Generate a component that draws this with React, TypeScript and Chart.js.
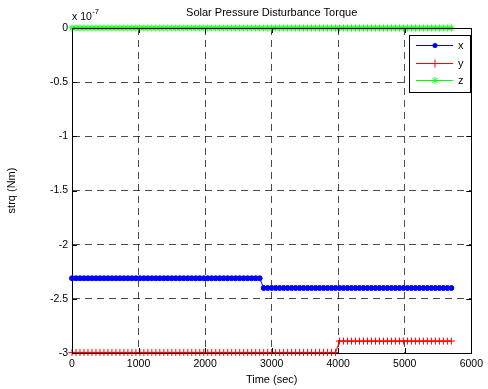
import React, { useEffect, useRef } from "react";
import { Chart, registerables } from "chart.js";

Chart.register(...registerables);

// Time samples (sec)
const TIME = [
  0, 60, 120, 180, 240, 300, 360, 420, 480, 540, 600, 660, 720, 780, 840, 900,
  960, 1020, 1080, 1140, 1200, 1260, 1320, 1380, 1440, 1500, 1560, 1620, 1680, 1740, 1800, 1860,
  1920, 1980, 2040, 2100, 2160, 2220, 2280, 2340, 2400, 2460, 2520, 2580, 2640, 2700, 2760, 2820,
  2880, 2940, 3000, 3060, 3120, 3180, 3240, 3300, 3360, 3420, 3480, 3540, 3600, 3660, 3720, 3780,
  3840, 3900, 3960, 4020, 4080, 4140, 4200, 4260, 4320, 4380, 4440, 4500, 4560, 4620, 4680, 4740,
  4800, 4860, 4920, 4980, 5040, 5100, 5160, 5220, 5280, 5340, 5400, 5460, 5520, 5580, 5640, 5700,
];

// Torque values in units of 1e-7 Nm
const X_TORQUE = [
  -2.31, -2.31, -2.31, -2.31, -2.31, -2.31, -2.31, -2.31, -2.31, -2.31, -2.31, -2.31, -2.31, -2.31, -2.31, -2.31,
  -2.31, -2.31, -2.31, -2.31, -2.31, -2.31, -2.31, -2.31, -2.31, -2.31, -2.31, -2.31, -2.31, -2.31, -2.31, -2.31,
  -2.31, -2.31, -2.31, -2.31, -2.31, -2.31, -2.31, -2.31, -2.31, -2.31, -2.31, -2.31, -2.31, -2.31, -2.31, -2.31,
  -2.40, -2.40, -2.40, -2.40, -2.40, -2.40, -2.40, -2.40, -2.40, -2.40, -2.40, -2.40, -2.40, -2.40, -2.40, -2.40,
  -2.40, -2.40, -2.40, -2.40, -2.40, -2.40, -2.40, -2.40, -2.40, -2.40, -2.40, -2.40, -2.40, -2.40, -2.40, -2.40,
  -2.40, -2.40, -2.40, -2.40, -2.40, -2.40, -2.40, -2.40, -2.40, -2.40, -2.40, -2.40, -2.40, -2.40, -2.40, -2.40,
];

const Y_TORQUE = [
  -2.995, -2.995, -2.995, -2.995, -2.995, -2.995, -2.995, -2.995, -2.995, -2.995, -2.995, -2.995, -2.995, -2.995, -2.995, -2.995,
  -2.995, -2.995, -2.995, -2.995, -2.995, -2.995, -2.995, -2.995, -2.995, -2.995, -2.995, -2.995, -2.995, -2.995, -2.995, -2.995,
  -2.995, -2.995, -2.995, -2.995, -2.995, -2.995, -2.995, -2.995, -2.995, -2.995, -2.995, -2.995, -2.995, -2.995, -2.995, -2.995,
  -2.995, -2.995, -2.995, -2.995, -2.995, -2.995, -2.995, -2.995, -2.995, -2.995, -2.995, -2.995, -2.995, -2.995, -2.995, -2.995,
  -2.995, -2.995, -2.995, -2.89, -2.89, -2.89, -2.89, -2.89, -2.89, -2.89, -2.89, -2.89, -2.89, -2.89, -2.89, -2.89,
  -2.89, -2.89, -2.89, -2.89, -2.89, -2.89, -2.89, -2.89, -2.89, -2.89, -2.89, -2.89, -2.89, -2.89, -2.89, -2.89,
];

const Z_TORQUE = [
  0, 0, 0, 0, 0, 0, 0, 0, 0, 0, 0, 0, 0, 0, 0, 0,
  0, 0, 0, 0, 0, 0, 0, 0, 0, 0, 0, 0, 0, 0, 0, 0,
  0, 0, 0, 0, 0, 0, 0, 0, 0, 0, 0, 0, 0, 0, 0, 0,
  0, 0, 0, 0, 0, 0, 0, 0, 0, 0, 0, 0, 0, 0, 0, 0,
  0, 0, 0, 0, 0, 0, 0, 0, 0, 0, 0, 0, 0, 0, 0, 0,
  0, 0, 0, 0, 0, 0, 0, 0, 0, 0, 0, 0, 0, 0, 0, 0,
];

const SERIES_NAMES = ["x", "y", "z"];
const SERIES_COLORS = ["#0000ff", "#ff0000", "#00ff00"];
const SERIES_MARKERS = ["circle", "cross", "star"];

const X_TICKS = [0, 1000, 2000, 3000, 4000, 5000, 6000];
const Y_TICKS = [0, -0.5, -1, -1.5, -2, -2.5, -3];

const TITLE = "Solar Pressure Disturbance Torque";
const X_LABEL = "Time (sec)";
const Y_LABEL = "strq (Nm)";

const FONT = "'Liberation Sans', Arial, sans-serif";

function drawMarker(ctx: CanvasRenderingContext2D, kind: string, x: number, y: number, color: string) {
  ctx.save();
  ctx.strokeStyle = color;
  ctx.fillStyle = color;
  ctx.lineWidth = 1;
  ctx.beginPath();
  if (kind === "circle") {
    ctx.arc(x, y, 2.5, 0, Math.PI * 2);
    ctx.fill();
  } else if (kind === "cross") {
    ctx.moveTo(x - 4, y);
    ctx.lineTo(x + 4, y);
    ctx.moveTo(x, y - 4);
    ctx.lineTo(x, y + 4);
    ctx.stroke();
  } else {
    const r = 3.5;
    ctx.moveTo(x - r, y);
    ctx.lineTo(x + r, y);
    ctx.moveTo(x, y - r);
    ctx.lineTo(x, y + r);
    const d = r * 0.7;
    ctx.moveTo(x - d, y - d);
    ctx.lineTo(x + d, y + d);
    ctx.moveTo(x - d, y + d);
    ctx.lineTo(x + d, y - d);
    ctx.stroke();
  }
  ctx.restore();
}

const decorPlugin = {
  id: "decor",
  afterDraw(chart: any) {
    const ctx: CanvasRenderingContext2D = chart.ctx;
    const { left, right, top, bottom } = chart.chartArea;
    const xs = chart.scales.x;
    const ys = chart.scales.y;
    ctx.save();
    // box: top and right
    ctx.strokeStyle = "#000";
    ctx.lineWidth = 1;
    ctx.setLineDash([]);
    ctx.beginPath();
    ctx.moveTo(Math.round(left) + 0.5, Math.round(top) + 0.5);
    ctx.lineTo(Math.round(right) + 0.5, Math.round(top) + 0.5);
    ctx.lineTo(Math.round(right) + 0.5, Math.round(bottom) + 0.5);
    ctx.stroke();
    // inward ticks
    ctx.beginPath();
    X_TICKS.forEach((t) => {
      const px = Math.round(xs.getPixelForValue(t)) + 0.5;
      ctx.moveTo(px, bottom);
      ctx.lineTo(px, bottom - 5);
      ctx.moveTo(px, top);
      ctx.lineTo(px, top + 5);
    });
    Y_TICKS.forEach((t) => {
      const py = Math.round(ys.getPixelForValue(t)) + 0.5;
      ctx.moveTo(left, py);
      ctx.lineTo(left + 5, py);
      ctx.moveTo(right, py);
      ctx.lineTo(right - 5, py);
    });
    ctx.stroke();

    // texts
    ctx.fillStyle = "#000";
    ctx.textAlign = "center";
    ctx.textBaseline = "middle";
    ctx.font = `11px ${FONT}`;
    ctx.fillText(TITLE, (left + right) / 2, 13);
    ctx.fillText(X_LABEL, (left + right) / 2, 380);
    ctx.save();
    ctx.translate(12, (top + bottom) / 2);
    ctx.rotate(-Math.PI / 2);
    ctx.fillText(Y_LABEL, 0, 0);
    ctx.restore();
    // exponent
    ctx.textAlign = "left";
    ctx.font = `10.5px ${FONT}`;
    ctx.fillText("x 10", left, 17);
    const w = ctx.measureText("x 10").width;
    ctx.font = `7.5px ${FONT}`;
    ctx.fillText("-7", left + w + 0.5, 12);

    // legend
    const lx = 409.5, ly = 35.5, lw = 61, lh = 57;
    ctx.fillStyle = "#fff";
    ctx.fillRect(lx, ly, lw, lh);
    ctx.strokeStyle = "#000";
    ctx.lineWidth = 1;
    ctx.strokeRect(lx, ly, lw, lh);
    ctx.font = `11px ${FONT}`;
    ctx.textAlign = "left";
    ctx.textBaseline = "middle";
    const rows = [45, 63, 80];
    SERIES_NAMES.forEach((name, i) => {
      const y = rows[i] + 0.5;
      ctx.strokeStyle = SERIES_COLORS[i];
      ctx.lineWidth = 1;
      ctx.beginPath();
      ctx.moveTo(416, y);
      ctx.lineTo(453, y);
      ctx.stroke();
      drawMarker(ctx, SERIES_MARKERS[i], 435, y, SERIES_COLORS[i]);
      ctx.fillStyle = "#000";
      ctx.fillText(name, 458, rows[i] + 1);
    });
    ctx.restore();
  },
};

export default function App() {
  const ref = useRef<HTMLCanvasElement | null>(null);
  useEffect(() => {
    if (!ref.current) return;
    const seriesVals = [X_TORQUE, Y_TORQUE, Z_TORQUE];
    const datasets = seriesVals.map((vals, i) => ({
      label: SERIES_NAMES[i],
      data: TIME.map((t, j) => ({ x: t, y: vals[j] })),
      borderColor: SERIES_COLORS[i],
      backgroundColor: SERIES_COLORS[i],
      borderWidth: 1,
      pointStyle: SERIES_MARKERS[i] as any,
      pointRadius: i === 0 ? 2.5 : 3.5,
      pointBorderWidth: 1,
      pointBorderColor: SERIES_COLORS[i],
      pointBackgroundColor: SERIES_COLORS[i],
      tension: 0,
      clip: false as any,
    }));
    const chart = new Chart(ref.current, {
      type: "line",
      data: { datasets },
      options: {
        animation: false,
        responsive: false,
        layout: { padding: { top: 28, right: 13, left: 0, bottom: 0 } },
        plugins: {
          legend: { display: false },
          title: { display: false },
          tooltip: { enabled: false },
        },
        scales: {
          x: {
            type: "linear",
            min: 0,
            max: 6000,
            afterFit: (s: any) => {
              s.height = 36;
            },
            afterBuildTicks: (s: any) => {
              s.ticks = X_TICKS.map((v) => ({ value: v }));
            },
            ticks: {
              color: "#000",
              font: { family: FONT, size: 10.5 },
              padding: 5,
              maxRotation: 0,
              autoSkip: false,
              callback: (v: any) => String(v),
            },
            grid: { color: "rgba(0,0,0,0.7)", drawTicks: false, lineWidth: 1 },
            border: { display: true, color: "#000", width: 1, dash: [7, 5] },
          },
          y: {
            type: "linear",
            min: -3,
            max: 0,
            afterFit: (s: any) => {
              s.width = 72;
            },
            afterBuildTicks: (s: any) => {
              s.ticks = Y_TICKS.map((v) => ({ value: v }));
            },
            ticks: {
              color: "#000",
              font: { family: FONT, size: 10.5 },
              padding: 4,
              autoSkip: false,
              callback: (v: any) => String(v),
            },
            grid: { color: "rgba(0,0,0,0.7)", drawTicks: false, lineWidth: 1 },
            border: { display: true, color: "#000", width: 1, dash: [7, 5] },
          },
        },
      },
      plugins: [decorPlugin],
    });
    return () => chart.destroy();
  }, []);
  return (
    <div style={{ position: "fixed", left: 0, top: 0, width: 488, height: 389, background: "#fff" }}>
      <canvas ref={ref} width={488} height={389} style={{ display: "block" }} />
    </div>
  );
}
